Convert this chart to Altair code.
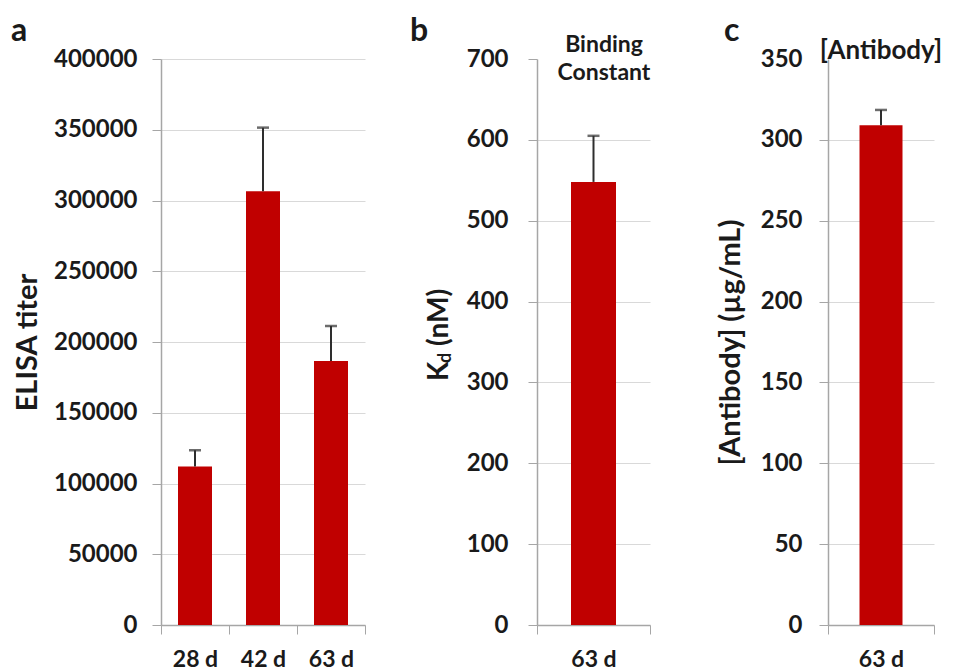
import altair as alt
import pandas as pd

# ---- data ----
days_a = ["28 d", "42 d", "63 d"]
titer = [112000, 306500, 186500]
titer_err = [11500, 45000, 24800]

days_b = ["63 d"]
kd = [548]
kd_err = [57]

days_c = ["63 d"]
antibody = [309]
antibody_err = [9.5]

RED = "#c00000"
FONT = "Lato"
TXT = "#1a1a1a"
AX = "#a6a6a6"
GRID = "#d9d9d9"
ERR = "#2e2e2e"


def frame(days, vals, errs):
    return pd.DataFrame({"day": days, "value": vals,
                         "upper": [v + e for v, e in zip(vals, errs)]})


def panel(data, width, height, ymax, ystep, bar_size, ytitle, label_pad,
          title_pad, hide_grid=None, hide_tick=None):
    axis_kw = dict(values=list(range(0, ymax + 1, ystep)), format="d",
                   labelFont=FONT, labelFontSize=24, labelFontWeight="bold",
                   labelColor=TXT, labelPadding=label_pad, tickSize=9,
                   tickColor=AX, domainColor=AX, domainWidth=1.5,
                   gridColor=GRID, gridWidth=1.2,
                   titleFont=FONT, titleFontSize=29, titleFontWeight="bold",
                   titleColor=TXT, titlePadding=title_pad, title=ytitle)
    if hide_grid is not None:
        axis_kw["gridOpacity"] = {"condition": {"test": f"datum.value >= {hide_grid}", "value": 0}, "value": 1}
    if hide_tick is not None:
        axis_kw["tickOpacity"] = {"condition": {"test": f"datum.value >= {hide_tick}", "value": 0}, "value": 1}
    yax = alt.Axis(**axis_kw)
    xax = alt.Axis(title=None, labelAngle=0, labelFont=FONT, labelFontSize=23,
                   labelFontWeight="bold", labelColor=TXT, labelPadding=14,
                   tickBand="extent", tickSize=9, tickColor=AX, domainColor=AX,
                   domainWidth=1.5, grid=False)
    x = alt.X("day:N", sort=list(data["day"]), axis=xax,
              scale=alt.Scale(paddingInner=0, paddingOuter=0))
    yscale = alt.Scale(domain=[0, ymax], nice=False)
    base = alt.Chart(data)
    bars = base.mark_bar(color=RED, size=bar_size).encode(
        x=x, y=alt.Y("value:Q", axis=yax, scale=yscale))
    err = base.mark_rule(color=ERR, strokeWidth=2).encode(
        x=x, y=alt.Y("value:Q"), y2="upper:Q")
    cap = base.mark_tick(color=ERR, thickness=2.5, size=12).encode(
        x=x, y=alt.Y("upper:Q"))
    return [bars, err, cap]


one = pd.DataFrame({"k": [0]})


def label(text, x, y, size, align="left", baseline="alphabetic", angle=0,
          dx=0, dy=0):
    kw = dict(text=text, font=FONT, fontSize=size, fontWeight="bold",
              color=TXT, align=align, baseline=baseline, dx=dx, dy=dy)
    if angle:
        kw["angle"] = angle
    return alt.Chart(one).mark_text(**kw).encode(x=alt.value(x), y=alt.value(y))


H = 566

pa = alt.layer(
    *panel(frame(days_a, titer, titer_err), 204, H, 400000, 50000, 34,
           "ELISA titer", 15, 11),
    label("a", -150, -18, 32),
).properties(width=204, height=H)

pb = alt.layer(
    *panel(frame(days_b, kd, kd_err), 113, H, 700, 100, 45, None, 20, 16,
           hide_grid=700),
    label("b", -127, -18, 32),
    label("Binding", 67, -14, 23, align="center", baseline="middle"),
    label("Constant", 67, 14, 23, align="center", baseline="middle"),
    label("K", -97, 322, 28, angle=270, baseline="middle"),
    label("d", -97, 322, 18, angle=270, baseline="middle", dx=18, dy=6),
    label("(nM)", -97, 322, 28, angle=270, baseline="middle", dx=35),
).properties(width=113, height=H)

pc = alt.layer(
    *panel(frame(days_c, antibody, antibody_err), 106, H, 350, 50, 43,
           "[Antibody] (\u00b5g/mL)", 17, 15, hide_grid=350, hide_tick=350),
    label("c", -104, -18, 32),
    label("[Antibody]", 53, -8, 26, align="center", baseline="middle"),
).properties(width=106, height=H)

left = alt.hconcat(pa, pb, spacing=44)
chart = alt.hconcat(left, pc, spacing=65).resolve_scale(
    x="independent", y="independent"
).properties(
    padding={"left": 3, "top": 7, "right": 0, "bottom": 0},
    background="white",
).configure_view(stroke=None)

chart.save("out.html", embed_options={"renderer": "svg", "actions": False})
